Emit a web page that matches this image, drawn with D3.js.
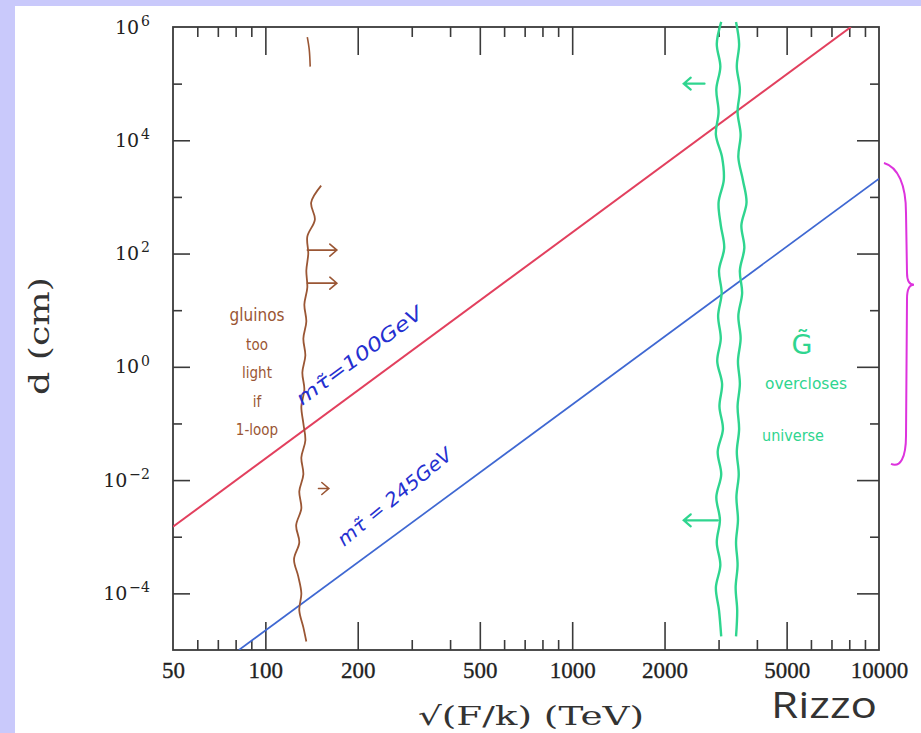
<!DOCTYPE html>
<html>
<head>
<meta charset="utf-8">
<script src="https://cdn.jsdelivr.net/npm/d3@7"></script>
<style>
  body { margin: 0; background: #c9c9fb; }
  svg { display: block; }
</style>
</head>
<body>
<div id="chart"></div>
<script>
    // axis ticks
    var xMajor = [100, 200, 500, 1000, 2000, 5000];
    var xMinor = [60, 70, 80, 90, 300, 400, 600, 700, 800, 900, 3000, 4000, 6000, 7000, 8000, 9000];
    var xLabels = [50, 100, 200, 500, 1000, 2000, 5000, 10000];
    var yMajor = [1e-4, 1e-2, 1e0, 1e2, 1e4];
    var yMinor = [1e-3, 1e-1, 1e1, 1e3, 1e5];
    var yLabels = [1e-4, 1e-2, 1e0, 1e2, 1e4, 1e6];

    // decay length d (cm) vs sqrt(F/k) (TeV)
    var stau100 = [[50, 1.5e-3], [8100, 1e6]];
    var stau245 = [[82, 1e-5], [10000, 2100]];

    // hand drawn gravitino overclosure band (log10 d, sqrt(F/k))
    var gravLogD = [6.09, 5.7, 5.3, 4.9, 4.5, 4.1, 3.7, 3.3, 2.9, 2.5, 2.1, 1.7, 1.3, 0.9,
                    0.5, 0.1, -0.3, -0.7, -1.1, -1.5, -1.9, -2.3, -2.7, -3.1, -3.5, -3.9, -4.3, -4.76];
    var gravLeftX = [3060, 2960, 3040, 2950, 3000, 2940, 3080, 3120, 3000, 3050, 3130, 3010, 3070, 2990,
                     3050, 2970, 3080, 3020, 3100, 2980, 3060, 2950, 3030, 2960, 3040, 2940, 3010, 3060];
    var gravRightX = [3420, 3500, 3440, 3520, 3460, 3540, 3480, 3600, 3700, 3560, 3640, 3520, 3580, 3480,
                      3540, 3470, 3520, 3460, 3500, 3440, 3490, 3430, 3470, 3420, 3460, 3410, 3450, 3420];

    // hand drawn gluino bound
    var gluinoLogD = [3.2, 2.9, 2.6, 2.3, 2.0, 1.7, 1.4, 1.1, 0.8, 0.5, 0.2, -0.1, -0.4, -0.7,
                      -1.0, -1.3, -1.6, -1.9, -2.2, -2.5, -2.8, -3.1, -3.4, -3.7, -4.0, -4.3, -4.6, -4.85];
    var gluinoX = [152, 141, 145, 137, 138, 136, 137, 134, 136, 133, 135, 132, 134, 131,
                   133, 135, 131, 133, 129, 131, 126, 129, 124, 128, 131, 129, 133, 136];

    var width = 921,
        height = 733,
        plot = {left: 173, right: 879, top: 27, bottom: 650};

    var x = d3.scaleLog().domain([50, 10000]).range([plot.left, plot.right]);
    var y = d3.scaleLog().domain([1e-5, 1e6]).range([plot.bottom, plot.top]);

    var svg = d3.select('#chart').append('svg')
        .attr('width', width)
        .attr('height', height);

    svg.append('rect')
        .attr('x', 15).attr('y', 6)
        .attr('width', width - 15).attr('height', height - 6)
        .attr('fill', '#fff');

    var tickColor = '#3a3a3a';

    function styleAxis(g) {
        g.select('.domain').remove();
        g.selectAll('.tick line').attr('stroke', tickColor).attr('stroke-width', 1.6);
    }

    // ticks on all four sides, pointing in
    svg.append('g').attr('transform', 'translate(0,' + plot.bottom + ')')
        .call(d3.axisBottom(x).tickValues(xMajor).tickSize(-28).tickFormat(''))
        .call(styleAxis);
    svg.append('g').attr('transform', 'translate(0,' + plot.bottom + ')')
        .call(d3.axisBottom(x).tickValues(xMinor).tickSize(-10).tickFormat(''))
        .call(styleAxis);
    svg.append('g').attr('transform', 'translate(0,' + plot.top + ')')
        .call(d3.axisTop(x).tickValues(xMajor).tickSize(-28).tickFormat(''))
        .call(styleAxis);
    svg.append('g').attr('transform', 'translate(0,' + plot.top + ')')
        .call(d3.axisTop(x).tickValues(xMinor).tickSize(-10).tickFormat(''))
        .call(styleAxis);
    svg.append('g').attr('transform', 'translate(' + plot.left + ',0)')
        .call(d3.axisLeft(y).tickValues(yMajor).tickSize(-17).tickFormat(''))
        .call(styleAxis);
    svg.append('g').attr('transform', 'translate(' + plot.left + ',0)')
        .call(d3.axisLeft(y).tickValues(yMinor).tickSize(-9).tickFormat(''))
        .call(styleAxis);
    svg.append('g').attr('transform', 'translate(' + plot.right + ',0)')
        .call(d3.axisRight(y).tickValues(yMajor).tickSize(-22).tickFormat(''))
        .call(styleAxis);
    svg.append('g').attr('transform', 'translate(' + plot.right + ',0)')
        .call(d3.axisRight(y).tickValues(yMinor).tickSize(-9).tickFormat(''))
        .call(styleAxis);

    // tick labels
    var xl = svg.append('g').attr('transform', 'translate(0,' + plot.bottom + ')')
        .call(d3.axisBottom(x).tickValues(xLabels).tickSize(0).tickPadding(12).tickFormat(d3.format('d')));
    xl.select('.domain').remove();
    xl.selectAll('text')
        .attr('font-family', 'Liberation Serif, serif')
        .attr('font-size', 23)
        .attr('fill', '#222')
        .attr('stroke', '#222').attr('stroke-width', 0.3);

    var yl = svg.append('g').attr('transform', 'translate(' + plot.left + ',0)')
        .call(d3.axisLeft(y).tickValues(yLabels).tickSize(0).tickPadding(23).tickFormat(''));
    yl.select('.domain').remove();
    yl.selectAll('text')
        .attr('font-family', 'DejaVu Serif, serif')
        .attr('font-size', 19)
        .attr('fill', '#222')
        .each(function(d) {
            var t = d3.select(this);
            var e = Math.round(Math.log10(d));
            t.text('10');
            t.append('tspan')
                .attr('dx', 2)
                .attr('dy', '-0.55em')
                .attr('font-size', 14)
                .text(e < 0 ? '\u2212' + (-e) : e);
        });

    // frame
    svg.append('rect')
        .attr('x', plot.left).attr('y', plot.top)
        .attr('width', plot.right - plot.left).attr('height', plot.bottom - plot.top)
        .attr('fill', 'none')
        .attr('stroke', tickColor)
        .attr('stroke-width', 1.8);

    // axis titles
    svg.append('text')
        .attr('transform', 'translate(49,336) rotate(-90)')
        .attr('text-anchor', 'middle')
        .attr('font-family', 'DejaVu Serif, serif')
        .attr('font-size', 28)
        .attr('fill', '#333')
        .attr('textLength', 118)
        .attr('lengthAdjust', 'spacingAndGlyphs')
        .text('d (cm)');

    svg.append('text')
        .attr('x', (plot.left + plot.right) / 2 + 5)
        .attr('y', 725)
        .attr('text-anchor', 'middle')
        .attr('font-family', 'DejaVu Serif, serif')
        .attr('font-size', 26)
        .attr('fill', '#333')
        .attr('textLength', 226)
        .attr('lengthAdjust', 'spacingAndGlyphs')
        .text('\u221A(F/k) (TeV)');

    svg.append('text')
        .attr('x', 771).attr('y', 718)
        .attr('font-family', 'Open Sans, sans-serif')
        .attr('font-size', 37)
        .attr('fill', '#333')
        .attr('textLength', 106)
        .attr('lengthAdjust', 'spacingAndGlyphs')
        .text('Rizzo');

    // clipped theory lines
    svg.append('clipPath').attr('id', 'plotArea')
        .append('rect')
        .attr('x', plot.left).attr('y', plot.top)
        .attr('width', plot.right - plot.left).attr('height', plot.bottom - plot.top);

    var line = d3.line()
        .x(function(d) { return x(d[0]); })
        .y(function(d) { return y(d[1]); });

    svg.append('path')
        .attr('d', line(stau100))
        .attr('clip-path', 'url(#plotArea)')
        .attr('fill', 'none')
        .attr('stroke', '#e2405e')
        .attr('stroke-width', 2);

    svg.append('path')
        .attr('d', line(stau245))
        .attr('clip-path', 'url(#plotArea)')
        .attr('fill', 'none')
        .attr('stroke', '#3f68d2')
        .attr('stroke-width', 1.7);

    // hand drawn curves
    var wavy = d3.line()
        .curve(d3.curveCatmullRom)
        .x(function(d) { return x(d[0]); })
        .y(function(d) { return y(Math.pow(10, d[1])); });

    var green = '#2fd58f';
    [gravLeftX, gravRightX].forEach(function(xs) {
        svg.append('path')
            .attr('d', wavy(xs.map(function(v, i) { return [v, gravLogD[i]]; })))
            .attr('fill', 'none')
            .attr('stroke', green)
            .attr('stroke-width', 2.4);
    });

    var brown = '#9a5634';
    svg.append('path')
        .attr('d', wavy(gluinoX.map(function(v, i) { return [v, gluinoLogD[i]]; })))
        .attr('fill', 'none')
        .attr('stroke', brown)
        .attr('stroke-width', 1.8);

    svg.append('path')
        .attr('d', wavy([[137, 5.82], [139, 5.6], [140, 5.3]]))
        .attr('fill', 'none')
        .attr('stroke', brown)
        .attr('stroke-width', 1.6);

    // arrows: [x from, x to, d]
    var gluinoArrows = [[137, 171, 115], [137, 171, 30], [149, 161, 7.1e-3]];
    var gravArrows = [[2700, 2310, 1.0e5], [2985, 2310, 1.95e-3]];

    function arrow(a, color, w) {
        var x0 = x(a[0]), x1 = x(a[1]), yy = y(a[2]);
        var s = x1 > x0 ? 1 : -1;
        svg.append('path')
            .attr('d', 'M' + x0 + ',' + yy + 'L' + x1 + ',' + yy +
                'M' + (x1 - s * 7) + ',' + (yy - 6) + 'L' + x1 + ',' + yy + 'L' + (x1 - s * 7) + ',' + (yy + 6))
            .attr('fill', 'none')
            .attr('stroke', color)
            .attr('stroke-width', w)
            .attr('stroke-linecap', 'round');
    }
    gluinoArrows.forEach(function(a) { arrow(a, brown, 1.6); });
    gravArrows.forEach(function(a) { arrow(a, green, 2.2); });

    // brace on the right
    var yT = y(Math.pow(10, 3.6)), yM = y(Math.pow(10, 1.45)), yB = y(Math.pow(10, -1.75));
    svg.append('path')
        .attr('d', 'M884,' + yT + 'C898,' + (yT + 4) + ' 906,' + (yT + 22) + ' 906,' + (yT + 50) +
            'L907,' + (yM - 12) + 'C907,' + (yM - 4) + ' 909,' + yM + ' 914,' + yM +
            'C909,' + yM + ' 907,' + (yM + 4) + ' 907,' + (yM + 14) +
            'L906,' + (yB - 30) + 'C906,' + (yB - 8) + ' 900,' + (yB + 2) + ' 891,' + (yB - 2))
        .attr('fill', 'none')
        .attr('stroke', '#dd33dd')
        .attr('stroke-width', 2);

    // hand written notes
    function slope(ln) {
        return Math.atan2(y(ln[1][1]) - y(ln[0][1]), x(ln[1][0]) - x(ln[0][0])) * 180 / Math.PI;
    }

    svg.append('text')
        .attr('transform', 'translate(302,406) rotate(' + slope(stau100) + ')')
        .attr('font-family', 'DejaVu Sans, sans-serif')
        .attr('font-style', 'italic')
        .attr('font-size', 19)
        .attr('fill', '#2530d0')
        .attr('textLength', 152)
        .attr('lengthAdjust', 'spacingAndGlyphs')
        .text('m\u03C4\u0303=100GeV');

    svg.append('text')
        .attr('transform', 'translate(344,547) rotate(' + (slope(stau245) - 3) + ')')
        .attr('font-family', 'DejaVu Sans, sans-serif')
        .attr('font-style', 'italic')
        .attr('font-size', 19)
        .attr('fill', '#2530d0')
        .attr('textLength', 142)
        .attr('lengthAdjust', 'spacingAndGlyphs')
        .text('m\u03C4\u0303 = 245GeV');

    var gluinoNote = ['gluinos', 'too', 'light', 'if', '1-loop'];
    svg.append('g').selectAll('text')
        .data(gluinoNote)
        .enter().append('text')
        .attr('x', 257)
        .attr('y', function(d, i) { return 321 + i * 28.5; })
        .attr('text-anchor', 'middle')
        .attr('font-family', 'DejaVu Sans Condensed, DejaVu Sans, sans-serif')
        .attr('font-size', function(d, i) { return i === 0 ? 17 : 15; })
        .attr('fill', brown)
        .text(function(d) { return d; });

    svg.append('text')
        .attr('x', 802).attr('y', 354)
        .attr('text-anchor', 'middle')
        .attr('font-family', 'DejaVu Sans, sans-serif')
        .attr('font-size', 27)
        .attr('fill', green)
        .text('G\u0303');

    svg.append('text')
        .attr('x', 806).attr('y', 389)
        .attr('text-anchor', 'middle')
        .attr('font-family', 'DejaVu Sans Condensed, DejaVu Sans, sans-serif')
        .attr('font-size', 15)
        .attr('fill', green)
        .attr('textLength', 82)
        .attr('lengthAdjust', 'spacingAndGlyphs')
        .text('overcloses');

    svg.append('text')
        .attr('x', 793).attr('y', 441)
        .attr('text-anchor', 'middle')
        .attr('font-family', 'DejaVu Sans Condensed, DejaVu Sans, sans-serif')
        .attr('font-size', 15)
        .attr('fill', green)
        .attr('textLength', 62)
        .attr('lengthAdjust', 'spacingAndGlyphs')
        .text('universe');
</script>
</body>
</html>
